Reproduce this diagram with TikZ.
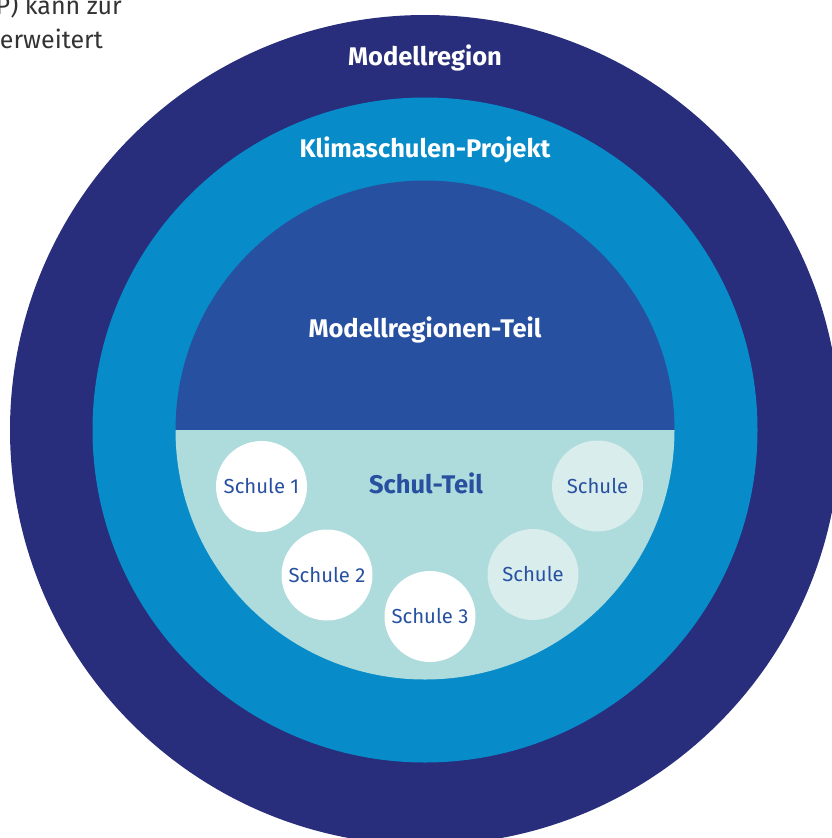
\documentclass[tikz,border=0pt]{standalone}
\usepackage{fontspec}
\setmainfont{Fira Sans}
\definecolor{navy}{HTML}{282D7C}
\definecolor{sky}{HTML}{078CC9}
\definecolor{royal}{HTML}{2850A0}
\definecolor{aqua}{HTML}{AEDBDB}
\definecolor{pale}{HTML}{D9EDED}
\definecolor{ink}{HTML}{333333}
\tikzset{
  ringlabel/.style={text=white, font=\bfseries\fontsize{25.5}{30}\selectfont},
  schoolA/.style={circle, fill=white, minimum size=91pt, inner sep=0pt,
    text=royal, font=\fontsize{20.3}{24}\selectfont},
  schoolB/.style={schoolA, fill=pale},
  bodytext/.style={text=ink, font=\fontsize{25}{30}\selectfont, inner sep=0pt, anchor=base east}
}
\begin{document}
\begin{tikzpicture}[x=1pt,y=-1pt]
  \useasboundingbox (0,0) rectangle (832,838);
  \clip (0,0) rectangle (832,838);
  % nested rings
  \fill[navy] (425,430) circle (415);
  \fill[sky] (425,430) circle (332.5);
  % inner disc: upper and lower halves (y axis points down)
  \fill[royal] (175.5,430) arc[start angle=180, end angle=360, radius=249.5] -- cycle;
  \fill[aqua] (175.5,430) arc[start angle=180, end angle=0, radius=249.5] -- cycle;
  % labels
  \node[ringlabel] (mr) at (425,58) {Modellregion};
  \node[ringlabel] (kp) at (425,150) {Klimaschulen-Projekt};
  \node[ringlabel] (mt) at (425,330) {Modellregionen-Teil};
  \node[ringlabel, text=royal] (st) at (426,483) {Schul-Teil};
  % schools
  \node[schoolA] (s1) at (261.5,486.5) {Schule 1};
  \node[schoolA] (s2) at (327,575) {Schule 2};
  \node[schoolA] (s3) at (430,616.5) {Schule 3};
  \node[schoolB] (s4) at (533,574.5) {Schule};
  \node[schoolB] (s5) at (597.5,486) {Schule};
  % running text at the page edge
  \node[bodytext] (t1) at (122,14) {P) kann zur};
  \node[bodytext] (t2) at (103,48) {erweitert};
\end{tikzpicture}
\end{document}
